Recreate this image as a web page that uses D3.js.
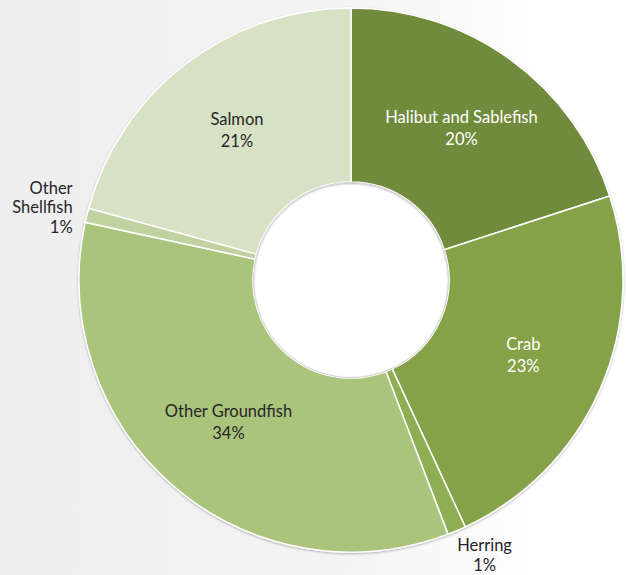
<!DOCTYPE html>
<html>
<head>
<meta charset="utf-8">
<script src="https://cdn.jsdelivr.net/npm/d3@7"></script>
<style>
  html, body { margin: 0; padding: 0; background: #fff; }
  svg text { font-family: Lato, "Open Sans", sans-serif; }
</style>
</head>
<body>
<svg id="chart" width="626" height="575"></svg>
<script>
// Share of catch by species group, clockwise from 12 o'clock
const categories = ['Halibut and Sablefish', 'Crab', 'Herring', 'Other Groundfish', 'Other Shellfish', 'Salmon'];
const shares = [20.0, 23.1, 1.1, 34.2, 0.85, 20.75];
const shareLabels = ['20%', '23%', '1%', '34%', '1%', '21%'];
const labelLines = [['Halibut and Sablefish'], ['Crab'], ['Herring'], ['Other Groundfish'], ['Other', 'Shellfish'], ['Salmon']];
const colors = ['#718b3e', '#86a24a', '#8fae52', '#abc47c', '#bfd2a0', '#d7e2c4'];
const textColors = ['#ffffff', '#ffffff', '#262626', '#262626', '#262626', '#262626'];
const outside = [false, false, true, false, true, false];

const width = 626, height = 575;
const cx = 351, cy = 280;
const outerR = 272, innerR = 98;

const svg = d3.select('#chart');
const defs = svg.append('defs');

// light grey wash on the left side of the background
const bg = defs.append('linearGradient').attr('id', 'bg').attr('x1', 0).attr('x2', 1).attr('y1', 0).attr('y2', 0);
bg.append('stop').attr('offset', '0%').attr('stop-color', '#eeeeee');
bg.append('stop').attr('offset', '55%').attr('stop-color', '#f4f4f4');
bg.append('stop').attr('offset', '88%').attr('stop-color', '#ffffff');
svg.append('rect').attr('width', width).attr('height', height).attr('fill', 'url(#bg)');

const shadow = defs.append('filter').attr('id', 'shadow').attr('x', '-10%').attr('y', '-10%').attr('width', '120%').attr('height', '120%');
shadow.append('feDropShadow').attr('dx', 0).attr('dy', 1).attr('stdDeviation', 1.2).attr('flood-color', '#000').attr('flood-opacity', 0.3);

const data = categories.map((c, i) => ({ name: c, value: shares[i], i }));

const pie = d3.pie().value(d => d.value).sort(null);
const arc = d3.arc().innerRadius(innerR).outerRadius(outerR);
const labelArc = d3.arc().innerRadius(188).outerRadius(188);
const outerLabelArc = d3.arc().innerRadius(300).outerRadius(300);

const g = svg.append('g').attr('transform', `translate(${cx},${cy})`);
const arcs = pie(data);

// white hole
g.append('circle').attr('r', innerR).attr('fill', '#ffffff');

g.append('g').attr('filter', 'url(#shadow)')
  .selectAll('path')
  .data(arcs)
  .join('path')
  .attr('d', arc)
  .attr('fill', d => colors[d.data.i])
  .attr('stroke', '#ffffff')
  .attr('stroke-width', 1.5);

g.append('circle').attr('r', innerR - 0.5).attr('fill', 'none')
  .attr('stroke', '#d2d2d2').attr('stroke-width', 1);

g.append('g')
  .selectAll('text')
  .data(arcs)
  .join('text')
  .attr('font-size', 16.5)
  .attr('fill', d => textColors[d.data.i])
  .each(function (d) {
    const i = d.data.i;
    const t = d3.select(this);
    const lines = labelLines[i].concat([shareLabels[i]]);
    let x, y, anchor, lh;
    if (outside[i]) {
      [x, y] = outerLabelArc.centroid(d);
      lh = 19.5;
      if (x < 0) { anchor = 'end'; x += 13; y -= 1; } else { anchor = 'middle'; x += 17; y -= 1; }
    } else {
      [x, y] = labelArc.centroid(d);
      lh = 22;
      anchor = 'middle';
    }
    t.attr('text-anchor', anchor);
    const y0 = y - (lines.length - 1) * lh / 2;
    lines.forEach((ln, k) => {
      t.append('tspan').attr('x', x).attr('y', y0 + k * lh).attr('dy', '0.35em').text(ln);
    });
  });
</script>
</body>
</html>
